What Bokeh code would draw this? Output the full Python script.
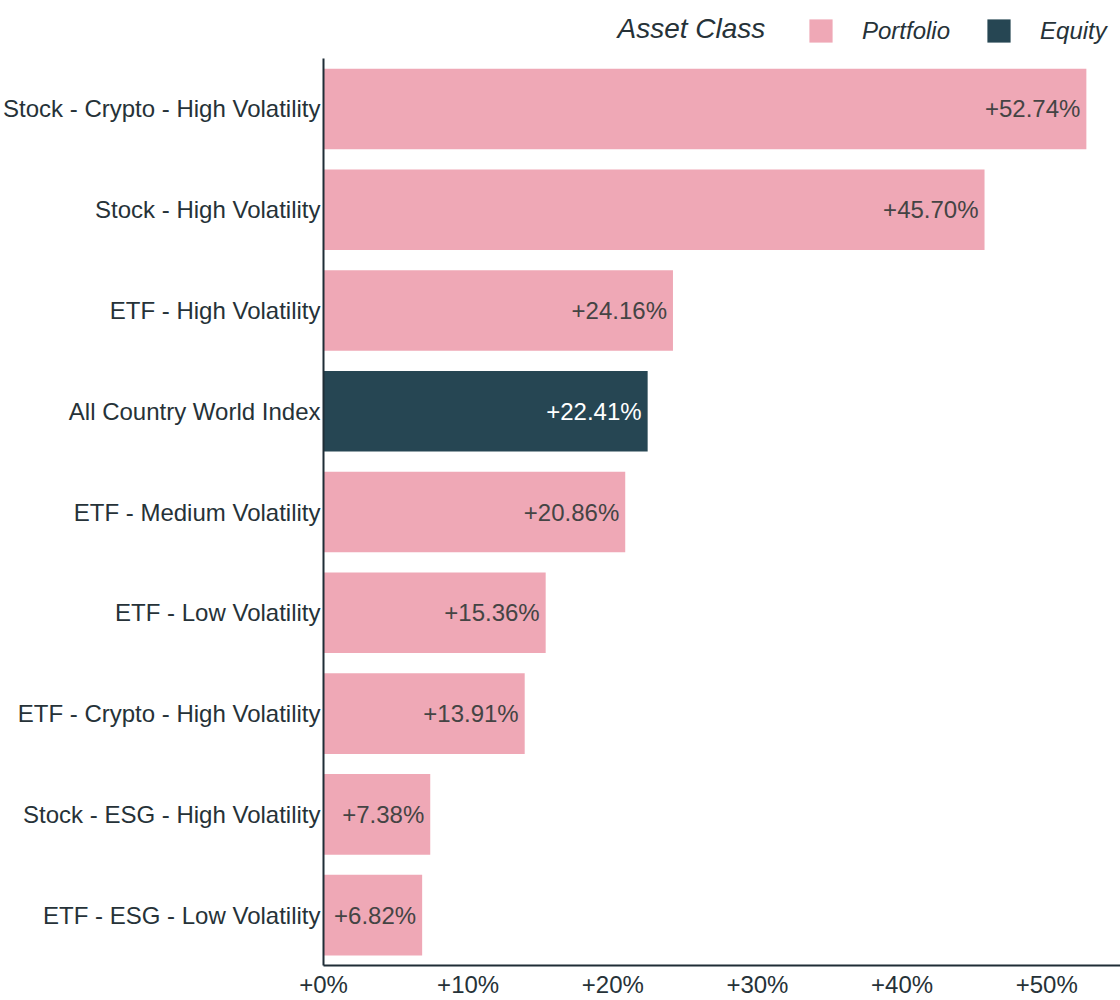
from bokeh.plotting import figure
from bokeh.models import (ColumnDataSource, Range1d, FixedTicker,
                          PrintfTickFormatter, Legend, LegendItem, Label)
from bokeh.core.properties import value
from bokeh.embed import file_html
from bokeh.resources import INLINE

# ---------------- data (top to bottom) ----------------
categories = [
    "Stock - Crypto - High Volatility",
    "Stock - High Volatility",
    "ETF - High Volatility",
    "All Country World Index",
    "ETF - Medium Volatility",
    "ETF - Low Volatility",
    "ETF - Crypto - High Volatility",
    "Stock - ESG - High Volatility",
    "ETF - ESG - Low Volatility",
]
returns = [52.74, 45.70, 24.16, 22.41, 20.86, 15.36, 13.91, 7.38, 6.82]
asset_class = ["Portfolio", "Portfolio", "Portfolio", "Equity", "Portfolio",
               "Portfolio", "Portfolio", "Portfolio", "Portfolio"]
legend_classes = ["Portfolio", "Equity"]
x_ticks = [0, 10, 20, 30, 40, 50]

PINK = "#EFA8B6"
DARK = "#264653"
TEXT = "#263238"
AXIS = "#1f2d36"
FONT = "Liberation Sans"
class_color = {"Portfolio": PINK, "Equity": DARK}
class_label_color = {"Portfolio": "#444444", "Equity": "#ffffff"}

n = len(categories)
ypos = [n - 1 - i for i in range(n)]          # first category on top

src = ColumnDataSource(dict(
    y=ypos, val=returns, cls=asset_class,
    lcolor=[class_label_color[a] for a in asset_class],
    label=[f"+{v:.2f}%" for v in returns]))

# ---------------- layout constants ----------------
W, H = 1120, 1000
BOTTOM_PANEL = 36          # height taken by the x axis
LEGEND_SPACE = 58          # empty strip above the bars (inside the frame)
FRAME_H = H - BOTTOM_PANEL
row_px = (FRAME_H - LEGEND_SPACE) / n
y_end = (n - 0.5) + LEGEND_SPACE / row_px

p = figure(width=W, height=H, output_backend="svg", toolbar_location=None,
           y_range=Range1d(-0.5, y_end), x_range=Range1d(0, 55.1),
           min_border_top=0, min_border_right=0, min_border_bottom=0,
           min_border_left=0)
p.outline_line_color = None
p.xgrid.grid_line_color = None
p.ygrid.grid_line_color = None

renderers = {}
for cls in legend_classes:
    view_src = ColumnDataSource(dict(
        y=[yy for yy, a in zip(ypos, asset_class) if a == cls],
        val=[v for v, a in zip(returns, asset_class) if a == cls]))
    renderers[cls] = p.hbar(y="y", right="val", left=0, height=0.8,
                            fill_color=class_color[cls], line_color=None,
                            source=view_src)

p.text(x="val", y="y", text="label", source=src, x_offset=-6,
       text_align="right", text_baseline="middle", text_color="lcolor",
       text_font=value(FONT), text_font_size="24px")

# axes
p.xaxis.ticker = FixedTicker(ticks=x_ticks)
p.xaxis.formatter = PrintfTickFormatter(format="+%d%%")
p.yaxis.ticker = FixedTicker(ticks=ypos)
p.yaxis.major_label_overrides = {yy: c for yy, c in zip(ypos, categories)}
p.yaxis.bounds = (-0.5, n - 0.5)
for ax in (p.xaxis[0], p.yaxis[0]):
    ax.axis_line_color = AXIS
    ax.axis_line_width = 2
    ax.major_tick_line_color = None
    ax.minor_tick_line_color = None
    ax.major_tick_out = 0
    ax.major_tick_in = 0
    ax.minor_tick_out = 0
    ax.minor_tick_in = 0
    ax.major_label_text_font = FONT
    ax.major_label_text_font_size = "24px"
    ax.major_label_text_color = TEXT
p.xaxis.major_label_standoff = 5
p.yaxis.major_label_standoff = 3

# legend in the strip above the bars (screen offsets from the frame's bottom-left)
legend = Legend(items=[LegendItem(label=c, renderers=[renderers[c]]) for c in legend_classes],
                orientation="horizontal", location=(483, FRAME_H - 44),
                glyph_width=29, glyph_height=29, label_standoff=27,
                spacing=34, padding=0, margin=0,
                border_line_color=None, background_fill_alpha=0,
                label_text_font=FONT, label_text_font_size="24px",
                label_text_font_style="italic", label_text_color=TEXT)
p.add_layout(legend, "center")

p.add_layout(Label(x=294, y=FRAME_H - 27, x_units="screen", y_units="screen",
                   text="Asset Class", text_font=FONT,
                   text_font_size="28px", text_font_style="italic",
                   text_color=TEXT, text_baseline="middle"))

open("out.html", "w").write(file_html(p, INLINE))
